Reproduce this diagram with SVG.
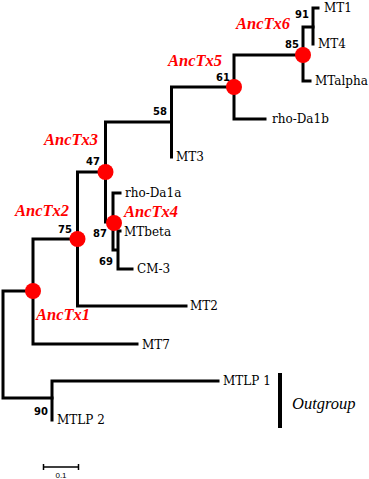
<svg xmlns="http://www.w3.org/2000/svg" width="369" height="479" viewBox="0 0 369 479">
<style>
.br{fill:none;stroke:#000;stroke-width:3;stroke-linecap:square;stroke-linejoin:miter}
.leaf{font-family:"DejaVu Serif","Liberation Serif",serif;font-size:12px;fill:#000}
.bs{font-family:"DejaVu Sans","Liberation Sans",sans-serif;font-size:10px;font-weight:bold;fill:#000;text-anchor:end}
.anc{font-family:"Liberation Serif",serif;font-size:16.5px;font-weight:bold;font-style:italic;fill:#ff0000}
.dot{fill:#ff0000}
</style>
<rect width="369" height="479" fill="#fff"/>
<g id="connectors">
<path class="br" d="M3,291 H33 M3,291 V398 H52"/>
<path class="br" d="M33,239 V344 H137 M33,239 H77.5"/>
<path class="br" d="M77.5,172 V306 H186 M77.5,172 H105.5"/>
<path class="br" d="M105.5,122 V222 H113 M105.5,122 H171.5"/>
<path class="br" d="M171.5,87 V157 M171.5,87 H234"/>
<path class="br" d="M234,55 V119 H265 M234,55 H303"/>
<path class="br" d="M303,27 V81 H310 M303,27 H313"/>
<path class="br" d="M313,8 V44 M313,8 H318"/>
<path class="br" d="M120,193 H113 V250 H118 M118,231 V269 H132 M118,231 H120"/>
<path class="br" d="M52,381 V420 M52,381 H218"/>
</g>
<g id="AncTx1"><circle class="dot" cx="33" cy="291" r="8"/><text class="anc" x="36" y="320">AncTx1</text></g>
<g id="AncTx2"><circle class="dot" cx="77.5" cy="239" r="8"/><text class="anc" x="15" y="216">AncTx2</text><text class="bs" x="72" y="233">75</text></g>
<g id="AncTx3"><circle class="dot" cx="105.5" cy="172" r="8"/><text class="anc" x="44" y="145">AncTx3</text><text class="bs" x="100" y="165">47</text></g>
<g id="AncTx4"><circle class="dot" cx="114" cy="223" r="8"/><text class="anc" x="124" y="217">AncTx4</text><text class="bs" x="107" y="237">87</text></g>
<g id="AncTx5"><circle class="dot" cx="234" cy="87" r="8"/><text class="anc" x="168" y="66">AncTx5</text><text class="bs" x="230" y="81">61</text></g>
<g id="AncTx6"><circle class="dot" cx="303" cy="55" r="8"/><text class="anc" x="236" y="29">AncTx6</text><text class="bs" x="299" y="48">85</text></g>
<g id="n91"><text class="bs" x="309" y="18">91</text></g>
<g id="n58"><text class="bs" x="167" y="115">58</text></g>
<g id="n69"><text class="bs" x="113" y="265">69</text></g>
<g id="n90"><text class="bs" x="48" y="415">90</text></g>
<g id="MT1"><text class="leaf" x="324" y="12">MT1</text></g>
<g id="MT4"><text class="leaf" x="318" y="48">MT4</text></g>
<g id="MTalpha"><text class="leaf" x="315" y="85">MTalpha</text></g>
<g id="rho-Da1b"><text class="leaf" x="272" y="123">rho-Da1b</text></g>
<g id="MT3"><text class="leaf" x="176" y="161">MT3</text></g>
<g id="rho-Da1a"><text class="leaf" x="125" y="197">rho-Da1a</text></g>
<g id="MTbeta"><text class="leaf" x="124" y="236">MTbeta</text></g>
<g id="CM-3"><text class="leaf" x="137" y="273">CM-3</text></g>
<g id="MT2"><text class="leaf" x="190" y="310">MT2</text></g>
<g id="MT7"><text class="leaf" x="142" y="349">MT7</text></g>
<g id="MTLP1"><text class="leaf" x="223" y="385">MTLP 1</text></g>
<g id="MTLP2"><text class="leaf" x="57" y="424">MTLP 2</text></g>
<g id="outgroup"><line x1="280" y1="373" x2="280" y2="428" stroke="#000" stroke-width="4"/><text x="292" y="409" font-family="Liberation Serif,serif" font-style="italic" font-size="16.5" fill="#000">Outgroup</text></g>
<g id="scalebar"><path d="M43,467 H79 M43.5,464 V470 M78.5,464 V470" stroke="#000" stroke-width="1.5" fill="none"/><text x="61" y="478" font-family="Liberation Sans,sans-serif" font-size="8" text-anchor="middle" fill="#000">0.1</text></g>
</svg>
